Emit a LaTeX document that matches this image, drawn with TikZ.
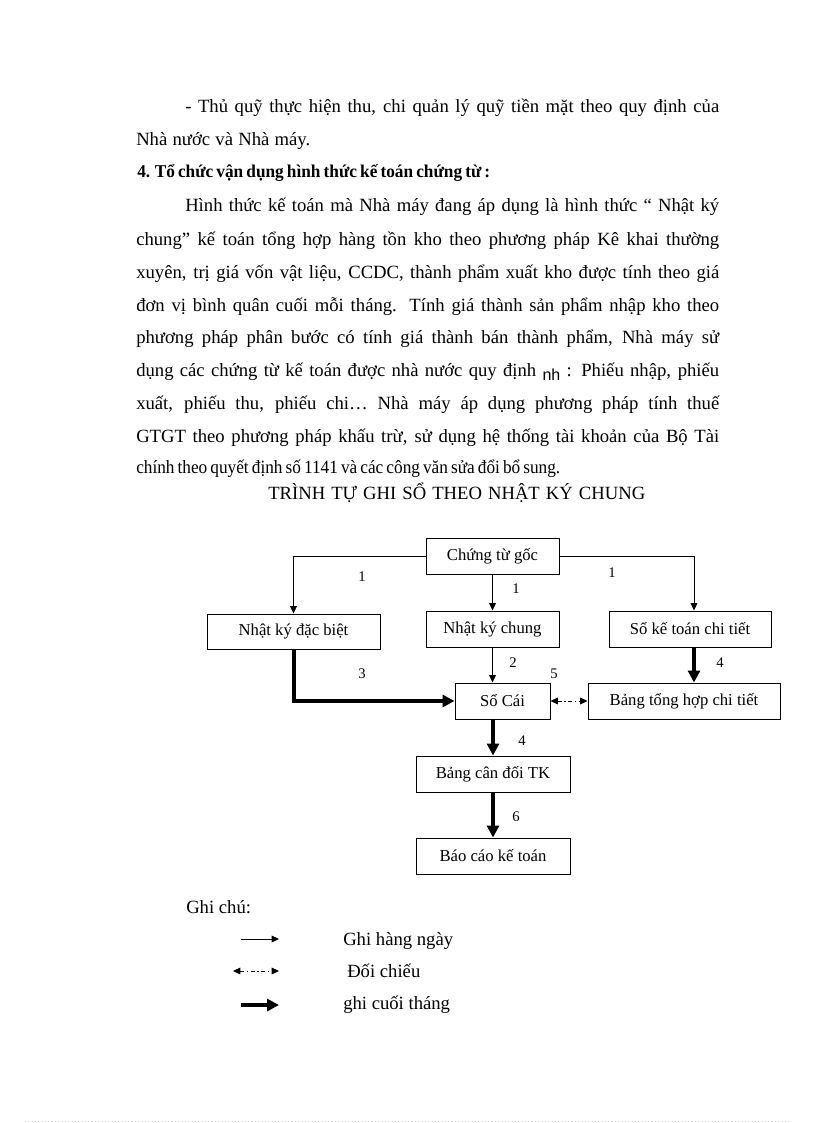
\documentclass[tikz,border=0pt]{standalone}
\usepackage{fontspec}
\usepackage{graphicx}
\setmainfont{Liberation Serif}
\newfontfamily\sansnh{Liberation Sans}
\usetikzlibrary{arrows.meta}
\newdimen\jlw
\newdimen\jlx
\newsavebox\jlbox
\newcommand\jl[2]{\sbox\jlbox{#2}\jlw=0.75pt\jlw=#1\jlw
 \ifdim\wd\jlbox>\jlw
   \sbox\jlbox{\spaceskip=0.18em plus 1em\relax #2}\jlx=\wd\jlbox
   \ifdim\jlx>\jlw\pgfmathsetmacro\jsc{\jlw/\jlx}\scalebox{\jsc}[1]{\usebox\jlbox}%
   \else\makebox[\jlw][s]{\spaceskip=0.18em plus 1em\relax #2}\fi
 \else\makebox[\jlw][s]{#2}\fi}
\begin{document}
\begin{tikzpicture}[x=0.75pt,y=-0.75pt,
 txt/.style={anchor=base west, inner sep=0pt, font=\fontsize{14pt}{16pt}\selectfont},
 box/.style={draw, line width=0.75pt, inner sep=0pt, font=\fontsize{12.5pt}{14pt}\selectfont},
 num/.style={inner sep=0pt, font=\fontsize{11pt}{13pt}\selectfont},
 thinarr/.style={line width=0.75pt, -{Triangle[length=5.5pt,width=5pt]}},
 thickarr/.style={line width=3pt, -{Triangle[length=9pt,width=9pt]}},
 ddarr/.style={line width=0.75pt, dash pattern=on 3pt off 2pt on 1pt off 2pt, {Triangle[length=5.5pt,width=5pt]}-{Triangle[length=5.5pt,width=5pt]}}]
\fill[white] (0,0) rectangle (816,1123);
\path[use as bounding box] (0,0) rectangle (816,1123);

% paragraph text
\node[txt] (t1) at (185,113) {\jl{534}{- Thủ quỹ thực hiện thu, chi quản lý quỹ tiền mặt theo quy định của}};
\node[txt] (t2) at (136,146) {\jl{174}{Nhà nước và Nhà máy.}};
\node[txt, font=\fontsize{13.5pt}{16pt}\selectfont\bfseries] (t3) at (137,178) {\jl{353}{4. Tổ chức vận dụng hình thức kế toán chứng từ :}};
\node[txt] (t4) at (185,212) {\jl{534}{Hình thức kế toán mà Nhà máy đang áp dụng là hình thức “ Nhật ký}};
\node[txt] (t5) at (136,245) {\jl{583}{chung” kế toán tổng hợp hàng tồn kho theo phương pháp Kê khai thường}};
\node[txt] (t6) at (136,278) {\jl{583}{xuyên, trị giá vốn vật liệu, CCDC, thành phẩm xuất kho được tính theo giá}};
\node[txt] (t7) at (136,311) {\jl{583}{đơn vị bình quân cuối mỗi tháng. Tính giá thành sản phẩm nhập kho theo}};
\node[txt] (t8) at (136,343) {\jl{583}{phương pháp phân bước có tính giá thành bán thành phẩm, Nhà máy sử}};
\node[txt] (t9) at (136,376) {\jl{583}{dụng các chứng từ kế toán được nhà nước quy định {\sansnh\fontsize{12pt}{14pt}\selectfont\raisebox{-3pt}{nh}} : Phiếu nhập, phiếu}};
\node[txt] (t10) at (136,409) {\jl{583}{xuất, phiếu thu, phiếu chi… Nhà máy áp dụng phương pháp tính thuế}};
\node[txt] (t11) at (136,442) {\jl{583}{GTGT theo phương pháp khấu trừ, sử dụng hệ thống tài khoản của Bộ Tài}};
\node[txt] (t12) at (136,473) {\jl{424}{chính theo quyết định số 1141 và các công văn sửa đổi bổ sung.}};
\node[txt] (title) at (268,499) {\jl{377}{TRÌNH TỰ GHI SỔ THEO NHẬT KÝ CHUNG}};

% boxes
\node[box, minimum width=133*0.75pt, minimum height=36*0.75pt] (cg) at (492.5,556) {Chứng từ gốc};
\node[box, minimum width=173*0.75pt, minimum height=35*0.75pt] (nkdb) at (293.5,631.5) {Nhật ký đặc biệt};
\node[box, minimum width=133*0.75pt, minimum height=36*0.75pt] (nkc) at (492.5,629) {Nhật ký chung};
\node[box, minimum width=162*0.75pt, minimum height=36*0.75pt] (skt) at (690,629) {Sổ kế toán chi tiết};
\node[box, minimum width=95*0.75pt, minimum height=36*0.75pt] (sc) at (502.5,701) {Sổ Cái};
\node[box, minimum width=192*0.75pt, minimum height=36*0.75pt] (bth) at (684,701) {Bảng tổng hợp chi tiết};
\node[box, minimum width=154*0.75pt, minimum height=36*0.75pt] (bcd) at (493,774) {Bảng cân đối TK};
\node[box, minimum width=154*0.75pt, minimum height=36*0.75pt] (bc) at (493,856) {Báo cáo kế toán};

% connectors
\coordinate (rx) at (694,556);
\draw[thinarr] (cg.west) -| (nkdb.north);
\draw[thinarr] (cg.east) -- (rx) -- (rx |- skt.north);
\draw[thinarr] (cg.south) -- (nkc.north);
\draw[thinarr] (nkc.south) -- (nkc.south |- sc.north);
\draw[thickarr] (nkdb.south) |- (sc.west);
\draw[thickarr] (rx |- skt.south) -- (rx |- bth.north);
\draw[ddarr] (sc.east) -- (bth.west);
\draw[thickarr] (sc.south -| bcd.north) -- (bcd.north);
\draw[thickarr] (bcd.south) -- (bc.north);

% numbers
\node[num] (n1a) at (362,577) {1};
\node[num] (n1b) at (516,589) {1};
\node[num] (n1c) at (612,573) {1};
\node[num] (n2) at (513,663) {2};
\node[num] (n3) at (362,674) {3};
\node[num] (n5) at (554,674) {5};
\node[num] (n4a) at (720,663) {4};
\node[num] (n4b) at (522,741) {4};
\node[num] (n6) at (516,817) {6};

% legend
\node[txt] (gc) at (186,913) {Ghi chú:};
\coordinate (l1a) at (241,939); \coordinate (l1b) at (279,939);
\coordinate (l2a) at (233,971); \coordinate (l2b) at (279,971);
\coordinate (l3a) at (241,1005); \coordinate (l3b) at (279,1005);
\draw[thinarr] (l1a) -- (l1b);
\draw[ddarr] (l2a) -- (l2b);
\draw[thickarr] (l3a) -- (l3b);
\node[txt] (g1) at (343,945) {Ghi hàng ngày};
\node[txt] (g2) at (347,977) {Đối chiếu};
\node[txt] (g3) at (343,1009) {ghi cuối tháng};

\draw[gray!40, dotted, line width=0.5pt] (25,1121) -- (790,1121);
\end{tikzpicture}
\end{document}
